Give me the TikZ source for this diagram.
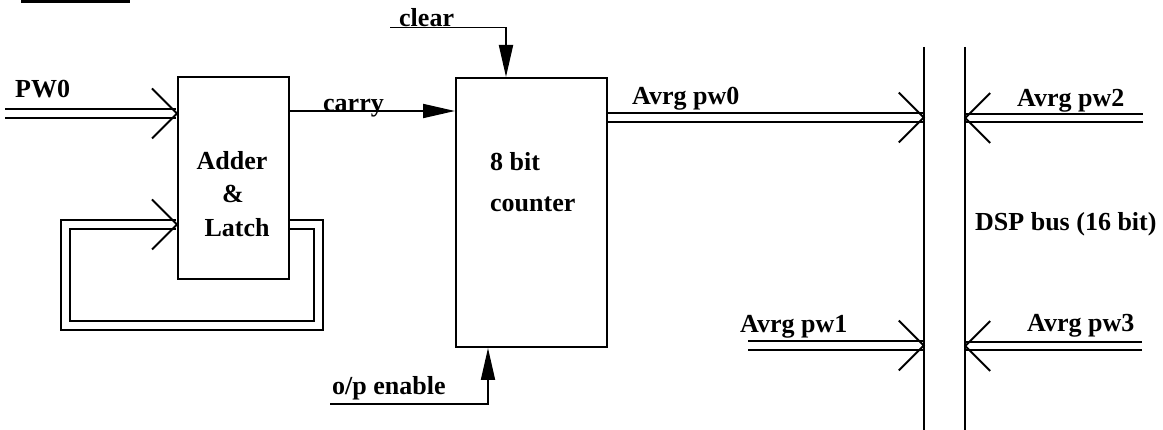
\documentclass[tikz,border=0pt]{standalone}
\usepackage{fontspec}
\setmainfont{Liberation Serif}
\usetikzlibrary{arrows.meta,calc}
\tikzset{
  lbl/.style={font=\fontsize{26}{30}\selectfont\bfseries, inner sep=0pt, anchor=base west},
  ctr/.style={font=\fontsize{26}{30}\selectfont\bfseries, inner sep=0pt, anchor=base},
  block/.style={draw, line width=2pt, inner sep=0pt},
  dbl/.style={double, line width=2pt, double distance=6.8pt},
  sig/.style={line width=1.9pt, -{Triangle[length=32pt,width=14pt]}},
  veer/.pic={\draw[line width=1.9pt] (-25,-25) -- (0,0) -- (-25,25);},
  veel/.pic={\draw[line width=1.9pt] (25,-25) -- (0,0) -- (25,25);},
}
\begin{document}
\begin{tikzpicture}[x=1pt,y=-1pt]
\useasboundingbox (0,0) rectangle (1163,430);

% title underline fragment
\draw[line width=2.2pt] (21,1.5) -- (130,1.5);

% blocks
\node[block, minimum width=111pt, minimum height=202pt] (adder) at (233.5,178) {};
\node[block, minimum width=151pt, minimum height=269pt] (counter) at (531.5,212.5) {};
\node[inner sep=0pt, minimum width=41pt, minimum height=383pt] (bus) at (944.5,238.5) {};
\draw[line width=1.7pt] (bus.north west) -- (bus.south west);
\draw[line width=1.7pt] (bus.north east) -- (bus.south east);

% block texts
\node[ctr] (t1) at (232,170) {Adder};
\node[ctr] (t2) at (233,203) {\&};
\node[ctr] (t3) at (237,237) {Latch};
\node[lbl] (t4) at (490,171) {8 bit};
\node[lbl] (t5) at (490,212) {counter};
\node[lbl] (dsp) at (975,231) {DSP bus (16 bit)};

% PW0 input
\coordinate (pw0in) at (5,113.5);
\coordinate (pw0tip) at (adder.west |- pw0in);
\draw[dbl, shorten >=1pt] (pw0in) -- (pw0tip);
\pic at (pw0tip) {veer};
\node[lbl] (lpw0) at (15,98) {PW0};

% feedback loop
\coordinate (fbr) at (318.5,325.5);
\coordinate (fbl) at (65.5,325.5);
\coordinate (fbtip) at (adder.west |- 0,224.5);
\draw[dbl, shorten >=1pt] (adder.east |- 0,224.5) -| (fbr) -| (fbl) |- (fbtip);
\pic at (fbtip) {veer};

% carry
\draw[sig] (adder.east |- 0,111) -- (counter.west |- 0,111);
\node[lbl] (lcarry) at (323,112) {carry};

% clear
\coordinate (clr) at (390,27.5);
\draw[sig] (clr) -| ([xshift=51pt]counter.north west);
\node[lbl] (lclear) at (399,27) {clear};

% o/p enable
\coordinate (ope) at (330,404);
\draw[sig] (ope) -| ([xshift=33pt]counter.south west);
\node[lbl] (lope) at (332,395) {o/p enable};

% Avrg pw0
\coordinate (p0tip) at (bus.west |- 0,117.5);
\draw[dbl, shorten >=1pt] (counter.east |- 0,117.5) -- (p0tip);
\pic at (p0tip) {veer};
\node[lbl] (lp0) at (632,105) {Avrg pw0};

% Avrg pw1
\coordinate (p1in) at (748,345.5);
\coordinate (p1tip) at (bus.west |- p1in);
\draw[dbl, shorten >=1pt] (p1in) -- (p1tip);
\pic at (p1tip) {veer};
\node[lbl] (lp1) at (740,333) {Avrg pw1};

% Avrg pw2
\coordinate (p2in) at (1143,118);
\coordinate (p2tip) at (bus.east |- p2in);
\draw[dbl, shorten >=1pt] (p2in) -- (p2tip);
\pic at (p2tip) {veel};
\node[lbl] (lp2) at (1017,107) {Avrg pw2};

% Avrg pw3
\coordinate (p3in) at (1142,346);
\coordinate (p3tip) at (bus.east |- p3in);
\draw[dbl, shorten >=1pt] (p3in) -- (p3tip);
\pic at (p3tip) {veel};
\node[lbl] (lp3) at (1027,332) {Avrg pw3};
\end{tikzpicture}
\end{document}
